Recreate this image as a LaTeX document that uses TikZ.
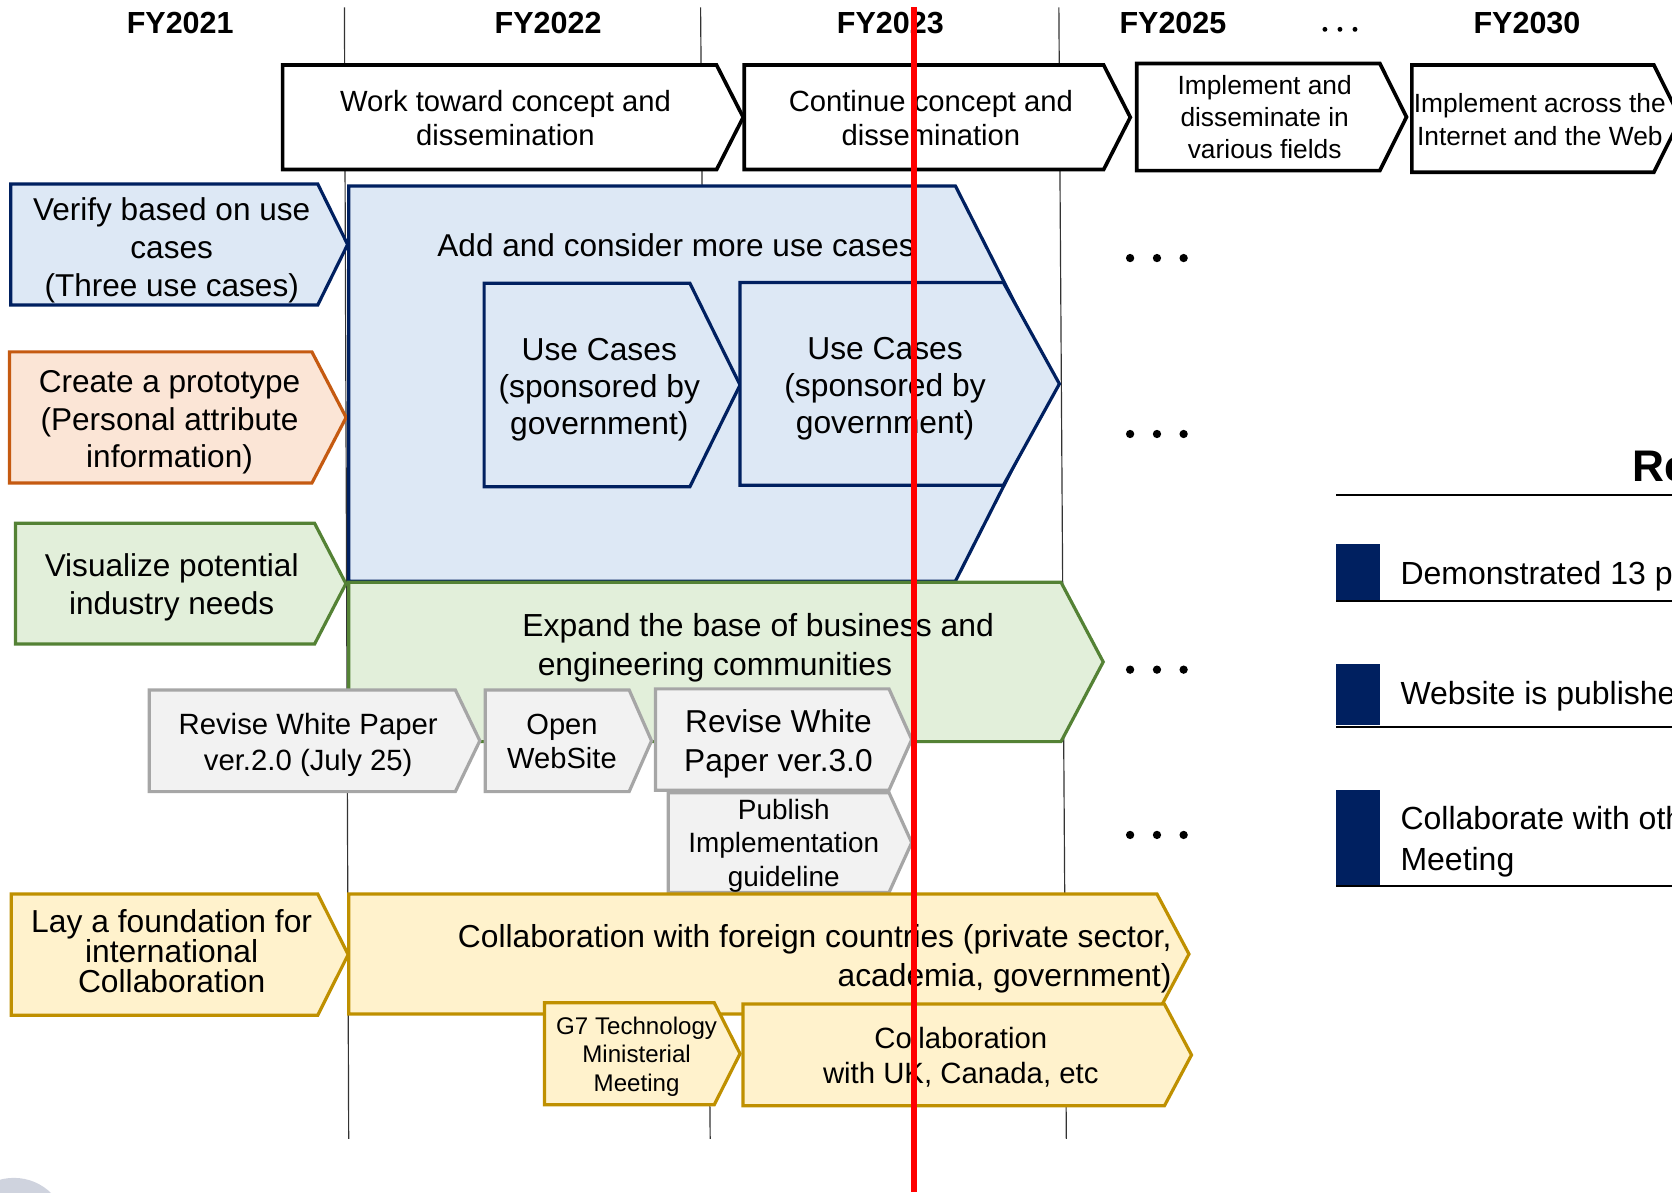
\documentclass[tikz,border=0pt]{standalone}
\usepackage{fontspec}
\setmainfont{Liberation Sans}
% palette
\definecolor{bdBlue}{HTML}{002060}
\definecolor{fiBlue}{HTML}{DDE8F5}
\definecolor{bdOrange}{HTML}{C55A11}
\definecolor{fiOrange}{HTML}{FBE5D6}
\definecolor{bdGreen}{HTML}{548235}
\definecolor{fiGreen}{HTML}{E2EFDA}
\definecolor{bdGray}{HTML}{A6A6A6}
\definecolor{fiGray}{HTML}{F2F2F2}
\definecolor{bdYellow}{HTML}{BF9000}
\definecolor{fiYellow}{HTML}{FFF2CC}
\definecolor{gridGray}{HTML}{333333}
\definecolor{blob}{HTML}{CFD3DE}
% arrow-shaped box: style, left x, top y, shoulder x, tip x, bottom y
\newcommand\arrowbox[6]{%
  \path[#1] (#2,#3) -- (#4,#3) -- (#5,{(#3+#6)/2}) -- (#4,#6) -- (#2,#6) -- cycle;}
\newcommand\fsz[2]{\fontsize{#1}{#2}\selectfont}
\begin{document}
\begin{tikzpicture}[x=0.5pt,y=-0.5pt,
  topbox/.style={draw=black,fill=white,line width=1.7pt,line join=miter},
  bluebox/.style={draw=bdBlue,fill=fiBlue,line width=1.5pt},
  orangebox/.style={draw=bdOrange,fill=fiOrange,line width=1.5pt},
  greenbox/.style={draw=bdGreen,fill=fiGreen,line width=1.5pt},
  graybox/.style={draw=bdGray,fill=fiGray,line width=1.5pt},
  yellowbox/.style={draw=bdYellow,fill=fiYellow,line width=1.5pt},
  gridline/.style={draw=gridGray,line width=0.55pt},
  txt/.style={inner sep=0pt,align=center,text=black},
  yearlabel/.style={inner sep=0pt,font=\bfseries\fsz{14.3}{17}},
  legendbar/.style={fill=bdBlue},
  legendrule/.style={draw=black,line width=1pt},
  legendtxt/.style={inner sep=0pt,anchor=base west,font=\fsz{15}{18}},
  nowline/.style={draw=red,line width=2.6pt}]
\useasboundingbox (0,0) rectangle (1568,1118);
\clip (0,0) rectangle (1568,1118);

% fiscal-year grid lines
\coordinate (g1t) at (323,7);  \coordinate (g1b) at (327,1068);
\coordinate (g2t) at (657,7);  \coordinate (g2b) at (666,1068);
\coordinate (g3t) at (993,7);  \coordinate (g3b) at (1000,1068);
\draw[gridline] (g1t) -- (g1b);
\draw[gridline] (g2t) -- (g2b);
\draw[gridline] (g3t) -- (g3b);

% year headers
\node[yearlabel] (fy21) at (169,22) {FY2021};
\node[yearlabel] (fy22) at (514,22) {FY2022};
\node[yearlabel] (fy23) at (835,22) {FY2023};
\node[yearlabel] (fy25) at (1100,22) {FY2025};
\node[yearlabel] (fy30) at (1432,22) {FY2030};
\foreach \dx in {1242.5,1256.6,1270.7} \fill (\dx,27.5) circle (1.15pt);

% overall phases
\arrowbox{topbox}{265}{61}{672}{697}{159}
\node[txt,font=\fsz{13.7}{16}] (ph1) at (474,111) {Work toward concept and\\dissemination};
\arrowbox{topbox}{698}{61}{1035}{1060}{159}
\node[txt,font=\fsz{13.7}{16}] (ph2) at (873,111) {Continue concept and\\dissemination};
\arrowbox{topbox}{1066}{59.5}{1294}{1319}{160}
\node[txt,font=\fsz{12.35}{15}] (ph3) at (1186,110) {Implement and\\disseminate in\\various fields};
\arrowbox{topbox}{1324}{61}{1551}{1576}{161.5}
\node[txt,font=\fsz{12.35}{15.5}] (ph4) at (1444,112) {Implement across the\\Internet and the Web};

% FY2021 activities
\arrowbox{bluebox}{10}{172.6}{298}{326}{286}
\node[txt,font=\fsz{14.8}{17.8}] (verify) at (161,234.5) {Verify based on use\\cases\\(Three use cases)};
\arrowbox{orangebox}{9}{330}{292.5}{324.6}{453}
\node[txt,font=\fsz{14.8}{17.8}] (proto) at (159,396) {Create a prototype\\(Personal attribute\\information)};
\arrowbox{greenbox}{14.6}{490.7}{295}{324.4}{604}
\node[txt,font=\fsz{14.8}{17.8}] (visual) at (161,551) {Visualize potential\\industry needs};
\arrowbox{yellowbox}{10.5}{838.4}{298}{326.5}{952}
\node[txt,font=\fsz{14.9}{14}] (found) at (161,892) {Lay a foundation for\\international\\Collaboration};

% use cases
\arrowbox{bluebox}{327}{174.4}{896}{990}{545}
\node[txt,font=\fsz{14.8}{17.8}] (addcases) at (634,230) {Add and consider more use cases};
\arrowbox{bluebox}{454}{265.7}{647}{694}{456.4}
\node[txt,font=\fsz{14.9}{17.5}] (uc1) at (562,365.5) {Use Cases\\(sponsored by\\government)};
\arrowbox{bluebox}{694}{265}{941}{993.5}{455}
\node[txt,font=\fsz{14.9}{17.5}] (uc2) at (830,364.5) {Use Cases\\(sponsored by\\government)};

% communities
\arrowbox{greenbox}{327}{546}{995}{1034.6}{695.5}
\node[txt,font=\fsz{14.95}{18.5}] (expand) at (711,607.5) {Expand the base of business and\\engineering communities\hspace*{40.5pt}\mbox{}};
\arrowbox{graybox}{140}{647}{427}{450}{742.4}
\node[txt,font=\fsz{13.75}{16.5}] (wp2) at (289,698.5) {Revise White Paper\\ver.2.0 (July 25)};
\arrowbox{graybox}{455}{647}{590}{611}{742.4}
\node[txt,font=\fsz{13.65}{16}] (web) at (527,695) {Open\\WebSite};
\arrowbox{graybox}{614.7}{646}{833.7}{855}{741}
\node[txt,font=\fsz{14.85}{18}] (wp3) at (730,697.5) {Revise White\\Paper ver.3.0};
\arrowbox{graybox}{626.6}{743.4}{833.7}{855}{837}
\node[txt,font=\fsz{13.1}{15.75}] (guide) at (735,793) {Publish\\Implementation\\guideline};

% international collaboration
\arrowbox{yellowbox}{327}{838.4}{1085}{1115}{951}
\node[txt,align=right,anchor=east,font=\fsz{14.9}{18}] (foreign) at (1099,899) {Collaboration with foreign countries (private sector,\\academia, government)};
\arrowbox{yellowbox}{510.7}{940.3}{669.8}{694}{1036}
\node[txt,font=\fsz{11.3}{13.5}] (g7) at (597,991) {G7 Technology\\Ministerial\\Meeting};
\arrowbox{yellowbox}{696.8}{941.6}{1092}{1117.4}{1037}
\node[txt,font=\fsz{13.75}{16.5}] (uk) at (901,991.5) {Collaboration\\with UK, Canada, etc};

% continuation marks
\foreach \ry in {242,407,628,783}
  \foreach \dx in {1059.8,1085,1110} \fill (\dx,\ry) circle (1.95pt);

% results panel
\node[inner sep=0pt,anchor=base west,font=\bfseries\fsz{20.75}{24}] (res) at (1531,451.7) {Re};
\draw[legendrule] (1253,464) -- (1568,464);
\fill[legendbar] (1253,510) rectangle (1294,563);
\draw[legendrule] (1253,564) -- (1568,564);
\node[legendtxt] (r1) at (1313,548.6) {Demonstrated 13 p};
\fill[legendbar] (1253,622.7) rectangle (1294,680);
\draw[legendrule] (1253,681.5) -- (1568,681.5);
\node[legendtxt] (r2) at (1313,661) {Website is publishe};
\fill[legendbar] (1253,741) rectangle (1294,829.5);
\draw[legendrule] (1253,830.6) -- (1568,830.6);
\node[legendtxt] (r3) at (1313,778) {Collaborate with oth};
\node[legendtxt] (r3b) at (1313,816) {Meeting};

% corner mark
\fill[blob] (13,1154.6) circle (25pt);

% current-date marker
\coordinate (nowt) at (857,7);
\coordinate (nowb) at (857,1118);
\draw[nowline] (nowt) -- (nowb);
\end{tikzpicture}
\end{document}
